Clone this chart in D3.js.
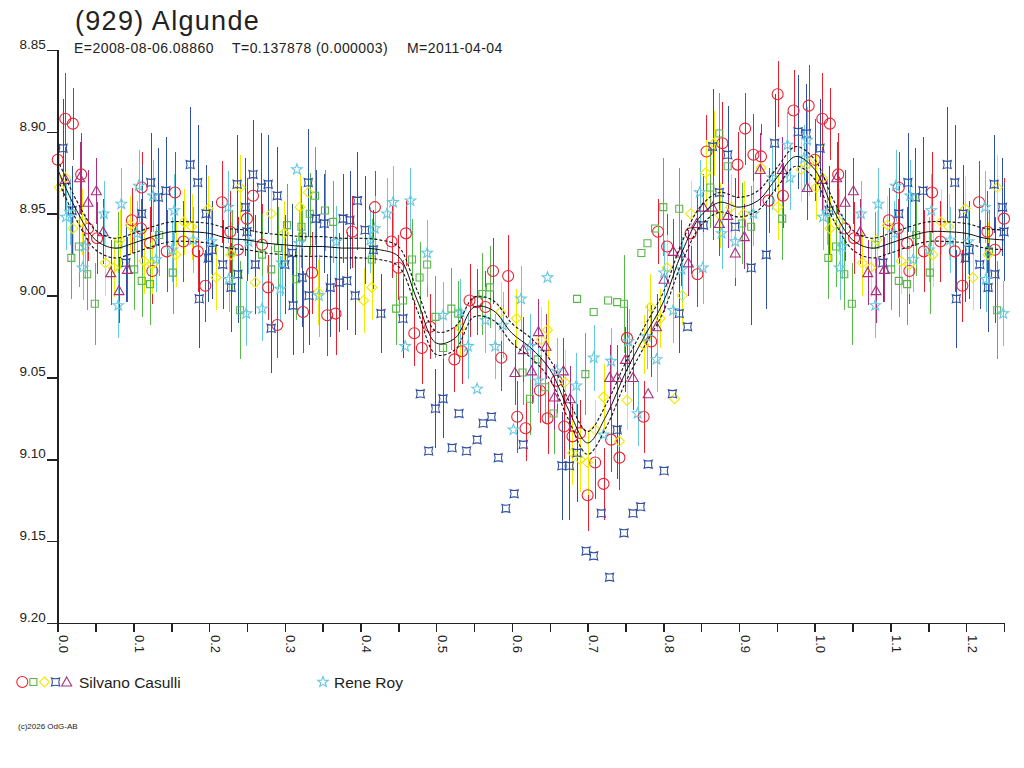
<!DOCTYPE html>
<html>
<head>
<meta charset="utf-8">
<script src="https://cdn.jsdelivr.net/npm/d3@7"></script>
<style>
  body { margin: 0; background: #fff; }
  svg { display: block; font-family: "Liberation Sans", Arial, sans-serif; }
</style>
</head>
<body>
<script>
// tick labels
var xTickLabels = ['0.0', '0.1', '0.2', '0.3', '0.4', '0.5', '0.6', '0.7', '0.8', '0.9', '1.0', '1.1', '1.2'];
var yTickLabels = ['8.85', '8.90', '8.95', '9.00', '9.05', '9.10', '9.15', '9.20'];

// observers
var observers = ['Silvano Casulli', 'Rene Roy'];

// fitted lightcurve: phase, magnitude, envelope half width
var fitPhase = [0.000, 0.025, 0.050, 0.075, 0.100, 0.125, 0.150, 0.175, 0.200, 0.225,
  0.250, 0.275, 0.300, 0.325, 0.350, 0.375, 0.400, 0.425, 0.450, 0.475,
  0.500, 0.525, 0.550, 0.575, 0.600, 0.625, 0.650, 0.675, 0.700, 0.725,
  0.750, 0.775, 0.800, 0.825, 0.850, 0.875, 0.900, 0.925, 0.950, 0.975, 1.000];
var fitMag = [8.923, 8.948, 8.966, 8.971, 8.968, 8.964, 8.961, 8.961, 8.962, 8.965,
  8.966, 8.968, 8.969, 8.970, 8.970, 8.971, 8.971, 8.972, 8.976, 9.003,
  9.029, 9.026, 9.007, 9.009, 9.023, 9.032, 9.045, 9.070, 9.090, 9.073,
  9.047, 9.025, 9.004, 8.973, 8.951, 8.943, 8.946, 8.942, 8.928, 8.915, 8.923];
var fitErr = [0.006, 0.006, 0.006, 0.006, 0.006, 0.006, 0.006, 0.006, 0.006, 0.006,
  0.006, 0.006, 0.006, 0.006, 0.006, 0.006, 0.006, 0.006, 0.006, 0.006,
  0.007, 0.007, 0.006, 0.006, 0.006, 0.006, 0.006, 0.006, 0.007, 0.007,
  0.006, 0.006, 0.006, 0.006, 0.006, 0.006, 0.006, 0.006, 0.006, 0.006, 0.006];

// measurements [phase, mag, error]  (Silvano Casulli, five sessions)
var casulliCircle = [[0.000,8.917,.025],[0.010,8.892,.028],[0.020,8.895,.022],[0.031,8.926,.025],[0.040,8.959,.020],
  [0.052,8.965,.022],[0.098,8.954,.020],[0.110,8.959,.018],[0.111,8.934,.022],[0.122,8.968,.022],[0.125,8.985,.020],
  [0.144,8.973,.025],[0.155,8.937,.025],[0.166,8.967,.025],[0.185,8.973,.025],[0.195,8.994,.022],[0.217,8.943,.025],
  [0.228,8.961,.025],[0.238,8.972,.020],[0.250,8.953,.025],[0.258,8.939,.022],[0.270,8.969,.025],[0.278,8.995,.020],
  [0.290,9.018,.020],[0.324,9.010,.025],[0.336,8.986,.025],[0.356,9.012,.025],[0.367,9.011,.025],[0.389,8.961,.022],
  [0.419,8.946,.022],[0.441,8.967,.022],[0.450,8.983,.020],[0.460,8.962,.020],[0.471,9.023,.020],[0.481,9.032,.022],
  [0.492,9.019,.020],[0.524,9.039,.020],[0.534,9.034,.020],[0.544,9.003,.022],[0.554,9.004,.020],[0.565,9.007,.022],
  [0.575,8.985,.020],[0.586,9.038,.020],[0.595,8.988,.025],[0.607,9.074,.022],[0.618,9.081,.020],[0.637,9.058,.020],
  [0.647,9.075,.022],[0.659,9.052,.020],[0.669,9.080,.020],[0.680,9.086,.020],[0.690,9.084,.020],[0.700,9.122,.022],
  [0.710,9.102,.022],[0.721,9.115,.022],[0.731,9.088,.020],[0.742,9.099,.020],[0.752,9.026,.022],[0.774,9.074,.022],
  [0.784,9.028,.022],[0.793,8.961,.020],[0.805,8.970,.020],[0.836,8.962,.025],[0.845,8.987,.020],[0.857,8.912,.022],
  [0.878,8.907,.025],[0.898,8.920,.020],[0.908,8.898,.022],[0.919,8.914,.025],[0.929,8.915,.020],[0.939,8.942,.020],
  [0.951,8.877,.020],[0.958,8.939,.020],[0.972,8.887,.025],[0.992,8.884,.025]];

var casulliSquare = [[0.018,8.977,.025],[0.028,8.970,.025],[0.039,8.987,.022],[0.049,9.005,.025],[0.080,8.969,.020],
  [0.101,8.984,.025],[0.111,8.991,.022],[0.122,8.993,.025],[0.134,8.963,.025],[0.152,8.986,.025],[0.230,8.973,.025],
  [0.241,9.009,.030],[0.270,8.975,.025],[0.282,8.984,.022],[0.291,8.971,.025],[0.303,8.957,.025],[0.315,8.990,.025],
  [0.322,8.958,.025],[0.323,8.964,.020],[0.333,8.950,.025],[0.340,8.939,.030],[0.353,8.948,.025],[0.364,8.955,.025],
  [0.415,8.978,.025],[0.447,9.008,.022],[0.456,9.003,.025],[0.468,8.978,.025],[0.478,8.989,.022],[0.488,8.981,.020],
  [0.499,9.013,.025],[0.509,9.032,.022],[0.520,9.008,.025],[0.529,9.011,.020],[0.561,8.999,.025],[0.571,8.995,.025],
  [0.614,9.047,.020],[0.624,9.063,.022],[0.634,9.039,.025],[0.644,9.056,.022],[0.655,9.072,.025],[0.686,9.002,0],
  [0.697,9.048,.025],[0.708,9.010,0],[0.727,9.003,0],[0.739,9.004,0],[0.748,9.005,.030],[0.771,8.974,0],
  [0.779,8.968,0],[0.789,8.959,0],[0.800,8.946,.030],[0.821,8.947,.025],[0.862,8.934,.025],[0.874,8.901,.025],
  [0.885,8.921,.025],[0.904,8.956,.025],[0.916,8.958,.025],[0.957,8.953,.025]];

var casulliDiamond = [[0.002,8.934,.020],[0.010,8.928,.020],[0.020,8.959,.020],[0.032,8.955,.020],[0.063,8.980,.020],
  [0.074,8.983,.018],[0.082,8.966,.018],[0.096,8.957,.018],[0.114,8.979,.020],[0.125,8.981,.018],[0.156,8.975,.020],
  [0.167,8.955,.020],[0.177,8.958,.020],[0.199,8.947,.020],[0.209,8.989,.020],[0.229,8.975,.020],[0.241,8.934,.020],
  [0.261,8.992,.020],[0.282,8.950,.020],[0.299,8.962,.020],[0.320,8.946,.020],[0.331,8.937,.020],[0.344,8.998,.020],
  [0.404,9.003,.020],[0.415,8.995,.020],[0.532,9.020,.018],[0.585,9.010,.018],[0.606,9.014,.018],[0.639,9.027,.020],
  [0.647,9.021,.018],[0.670,9.053,.020],[0.680,9.096,.020],[0.690,9.100,.020],[0.700,9.102,.020],[0.710,9.082,.018],
  [0.721,9.062,.020],[0.742,9.089,0],[0.752,9.064,.018],[0.774,9.030,.018],[0.783,9.007,.020],[0.796,9.014,.018],
  [0.805,8.983,.020],[0.815,9.063,0],[0.825,9.000,.018],[0.836,8.950,.020],[0.856,8.925,.020],[0.867,8.907,.020],
  [0.875,8.951,.020],[0.889,8.946,.020],[0.906,8.950,.020],[0.929,8.922,.020],[0.951,8.946,.020],[0.982,8.923,.020],
  [0.992,8.919,.020]];

var casulliCross = [[0.007,8.910,.030],[0.019,8.948,.027],[0.090,8.980,.024],[0.111,8.950,.030],[0.123,8.931,.030],
  [0.133,8.940,.030],[0.143,8.936,.033],[0.175,8.920,.035],[0.185,8.931,.035],[0.187,9.002,.030],[0.196,8.950,.030],
  [0.199,8.977,.027],[0.204,8.972,.030],[0.218,8.981,.027],[0.229,8.995,.027],[0.237,8.932,.030],[0.238,8.987,.030],
  [0.248,8.946,.030],[0.250,8.961,.030],[0.258,8.926,.033],[0.261,8.981,.030],[0.269,8.934,.033],[0.278,8.932,.030],
  [0.282,9.020,.027],[0.290,8.939,.030],[0.300,8.981,.030],[0.310,8.974,.030],[0.311,9.006,.030],[0.323,8.989,.030],
  [0.331,8.931,.033],[0.332,9.000,.030],[0.341,8.953,.030],[0.352,8.956,.030],[0.360,8.995,.030],[0.372,8.992,.030],
  [0.377,8.953,.027],[0.382,8.991,.030],[0.386,8.954,.030],[0.393,9.000,.024],[0.396,8.942,.030],[0.406,8.960,.033],
  [0.417,8.972,.024],[0.427,9.011,.024],[0.456,9.014,.024],[0.479,9.060,0],[0.490,9.095,0],[0.499,9.069,.024],
  [0.509,9.063,.024],[0.521,9.093,0],[0.530,9.072,0],[0.540,9.095,0],[0.554,9.088,0],[0.562,9.078,0],
  [0.573,9.074,0],[0.582,9.099,0],[0.592,9.130,0],[0.603,9.121,0],[0.615,9.091,0],[0.666,9.104,.033],
  [0.676,9.104,.033],[0.686,9.096,.030],[0.698,9.156,0],[0.708,9.159,0],[0.718,9.133,0],[0.729,9.172,0],
  [0.739,9.082,.030],[0.748,9.145,0],[0.760,9.133,0],[0.770,9.129,0],[0.780,9.103,0],[0.801,9.107,0],
  [0.812,9.060,0],[0.821,9.011,.024],[0.832,9.019,0],[0.853,8.957,.030],[0.865,8.909,.035],[0.874,8.937,.035],
  [0.885,8.914,.030],[0.895,8.958,.030],[0.916,8.983,.035],[0.936,8.975,.033],[0.947,8.907,.030],[0.978,8.900,.035],
  [0.989,8.901,.030]];

var casulliTriangle = [[0.010,8.929,.020],[0.029,8.928,.022],[0.040,8.943,.020],[0.051,8.936,.020],[0.060,8.961,.020],
  [0.070,8.986,.020],[0.081,8.997,.020],[0.092,8.984,.020],[0.604,9.047,.020],[0.615,9.033,.020],[0.626,9.046,.020],
  [0.635,9.022,.020],[0.645,9.031,.020],[0.656,9.062,.020],[0.668,9.046,.020],[0.677,9.063,.020],[0.729,9.050,.020],
  [0.739,9.050,.020],[0.750,9.039,.020],[0.760,9.050,.020],[0.780,9.060,0],[0.791,9.019,.020],[0.801,8.990,.020],
  [0.813,8.973,.020],[0.823,8.974,.020],[0.833,8.980,.020],[0.844,8.956,.020],[0.853,8.946,.020],[0.865,8.946,.020],
  [0.874,8.956,.020],[0.885,8.951,.020],[0.895,8.974,.020],[0.907,8.964,.020],[0.928,8.923,.022],[0.957,8.923,.020],
  [0.990,8.934,.020]];

// measurements [phase, mag, error]  (Rene Roy)
var royStar = [[0.011,8.952,.020],[0.016,8.949,.020],[0.033,8.983,.020],[0.036,8.970,.020],[0.061,8.950,.020],
  [0.080,9.006,.020],[0.084,8.944,.022],[0.105,8.962,.020],[0.107,8.933,.022],[0.126,8.939,.022],[0.130,8.978,.020],
  [0.151,8.972,.020],[0.154,8.948,.022],[0.179,8.966,.020],[0.203,8.967,.020],[0.225,8.946,.022],[0.226,8.990,.020],
  [0.249,9.011,.020],[0.252,8.967,.020],[0.270,9.008,.020],[0.294,8.996,.020],[0.296,8.980,.020],[0.316,8.923,0],
  [0.319,8.968,.020],[0.345,9.000,.025],[0.368,8.967,.022],[0.413,8.966,.020],[0.419,8.959,.020],[0.435,8.950,.022],
  [0.443,8.943,.022],[0.459,9.031,0],[0.466,8.942,.020],[0.488,8.974,.020],[0.509,9.012,.020],[0.532,9.010,.020],
  [0.542,9.031,.020],[0.554,9.057,0],[0.565,9.015,.020],[0.578,9.031,.020],[0.588,9.018,.020],[0.602,9.082,0],
  [0.612,9.002,.020],[0.624,9.031,.020],[0.635,9.052,.020],[0.647,8.989,0],[0.659,9.046,.020],[0.685,9.055,.020],
  [0.708,9.038,.020],[0.721,9.085,0],[0.731,9.040,.020],[0.754,9.028,.020],[0.766,9.072,.020],[0.778,9.025,.020],
  [0.791,9.039,.020],[0.801,8.986,.020],[0.813,9.009,.020],[0.824,8.984,.020],[0.848,8.937,.020],[0.852,8.983,.022],
  [0.877,8.962,.022],[0.895,8.967,.022],[0.919,8.950,.020],[0.944,8.928,.020],[0.964,8.908,.020],[0.967,8.928,.020],
  [0.986,8.916,.020],[0.990,8.905,.020]];

(function init() {

  draw();
})();

// the plot repeats phases 0..0.25 after phase 1.0
function wrap(points) {

  return points.concat(points.filter(function (p) {
    return p[0] <= 0.25;
  }).map(function (p) {
    return [p[0] + 1, p[1], p[2]];
  }));
}

function shapePath(kind) {

  if (kind === 'circle') return 'M5.5,0A5.5,5.5 0 1,1 -5.5,0A5.5,5.5 0 1,1 5.5,0Z';
  if (kind === 'square') return 'M-3.5,-3.5H3.5V3.5H-3.5Z';
  if (kind === 'diamond') return 'M0,-5L5,0L0,5L-5,0Z';
  if (kind === 'cross') return 'M-4,-4Q0,-2.4 4,-4Q2.4,0 4,4Q0,2.4 -4,4Q-2.4,0 -4,-4Z';
  if (kind === 'triangle') return 'M0,-5L5,4L-5,4Z';
  // five point star
  var pts = d3.range(10).map(function (i) {
    var r = i % 2 ? 2.3 : 5.6;
    var a = -Math.PI / 2 + i * Math.PI / 5;
    return [r * Math.cos(a), r * Math.sin(a)];
  });
  return 'M' + pts.join('L') + 'Z';
}

function draw() {

  var series = [
    { name: observers[0], kind: 'circle', color: '#ea2030', data: casulliCircle },
    { name: observers[0], kind: 'square', color: '#58b848', data: casulliSquare },
    { name: observers[0], kind: 'diamond', color: '#f2ea00', data: casulliDiamond },
    { name: observers[0], kind: 'cross', color: '#3050a4', data: casulliCross },
    { name: observers[0], kind: 'triangle', color: '#aa2e80', data: casulliTriangle },
    { name: observers[1], kind: 'star', color: '#66c8e0', data: royStar }
  ];

  var x = d3.scaleLinear()
      .domain([0, 1.25])
      .range([57.7, 1004]);

  var y = d3.scaleLinear()
      .domain([+yTickLabels[0], +yTickLabels[yTickLabels.length - 1]])
      .range([50, 623]);

  var svg = d3.select('body')
    .append('svg')
      .attr('width', 1024)
      .attr('height', 768);

  svg.append('text')
      .attr('x', 75)
      .attr('y', 30)
      .attr('font-size', 27)
      .attr('letter-spacing', 1.3)
      .attr('fill', '#222')
      .text('(929) Algunde');

  var sub = [['E=2008-08-06.08860', 74], ['T=0.137878 (0.000003)', 232], ['M=2011-04-04', 407]];
  svg.selectAll('.sub')
      .data(sub)
      .enter()
    .append('text')
      .attr('class', 'sub')
      .attr('x', function (d) { return d[1]; })
      .attr('y', 53)
      .attr('font-size', 14)
      .attr('letter-spacing', 0.45)
      .attr('fill', '#222')
      .text(function (d) { return d[0]; });

  // error bars
  var bars = svg.append('g').attr('shape-rendering', 'crispEdges');
  series.forEach(function (s) {
    bars.selectAll(null)
        .data(wrap(s.data).filter(function (p) { return p[2] > 0; }))
        .enter()
      .append('line')
        .attr('x1', function (d) { return Math.round(x(d[0])) + 0.5; })
        .attr('x2', function (d) { return Math.round(x(d[0])) + 0.5; })
        .attr('y1', function (d) { return y(d[1] - d[2]); })
        .attr('y2', function (d) { return y(d[1] + d[2]); })
        .attr('stroke', s.color)
        .attr('stroke-width', 1.2);
  });

  // markers
  series.forEach(function (s) {
    svg.append('g').selectAll('path')
        .data(wrap(s.data))
        .enter()
      .append('path')
        .attr('d', shapePath(s.kind))
        .attr('transform', function (d) {
          return 'translate(' + x(d[0]) + ',' + y(d[1]) + ')';
        })
        .attr('fill', 'none')
        .attr('stroke', s.color)
        .attr('stroke-width', 1.1);
  });

  // fit and envelope
  var fit = wrap(fitPhase.map(function (p, i) {
    return [p, fitMag[i], fitErr[i]];
  }).filter(function (d) { return d[0] < 1; }));
  fit.sort(function (a, b) { return a[0] - b[0]; });

  var line = function (offset) {
    return d3.line()
        .x(function (d) { return x(d[0]); })
        .y(function (d) { return y(d[1] + offset * d[2]); })
        .curve(d3.curveCatmullRom);
  };

  svg.append('path')
      .attr('d', line(0)(fit))
      .attr('fill', 'none')
      .attr('stroke', '#111')
      .attr('stroke-width', 1);

  [-1, 1].forEach(function (k) {
    svg.append('path')
        .attr('d', line(k)(fit))
        .attr('fill', 'none')
        .attr('stroke', '#111')
        .attr('stroke-width', 1.1)
        .attr('stroke-dasharray', '3,2');
  });

  // axes
  var xMajor = xTickLabels.map(Number);
  var xAll = d3.range(0, 26).map(function (i) { return i * 0.05; });

  var xAxis = d3.axisBottom(x)
      .tickValues(xAll)
      .tickSizeOuter(0)
      .tickSize(9)
      .tickFormat(function (d) {
        var i = xMajor.findIndex(function (m) { return Math.abs(m - d) < 1e-6; });
        return i < 0 ? '' : xTickLabels[i];
      });

  var gx = svg.append('g')
      .attr('transform', 'translate(0,623)')
      .attr('shape-rendering', 'crispEdges')
      .call(xAxis);

  gx.selectAll('path, line').attr('stroke', '#222').attr('stroke-width', 1.5);
  gx.selectAll('text')
      .attr('transform', 'rotate(90)')
      .attr('x', 12)
      .attr('y', -1)
      .attr('dy', null)
      .attr('text-anchor', 'start')
      .attr('font-size', 13)
      .attr('font-family', '"Liberation Sans", Arial, sans-serif')
      .attr('fill', '#222');

  var yAxis = d3.axisLeft(y)
      .tickValues(yTickLabels.map(Number))
      .tickSizeOuter(0)
      .tickSize(11)
      .tickFormat(function (d, i) { return yTickLabels[i]; });

  var gy = svg.append('g')
      .attr('transform', 'translate(57.7,0)')
      .attr('shape-rendering', 'crispEdges')
      .call(yAxis);

  gy.selectAll('path, line').attr('stroke', '#222').attr('stroke-width', 1.5);
  gy.selectAll('text')
      .attr('x', -12)
      .attr('y', -1.5)
      .attr('dy', null)
      .attr('font-size', 13.5)
      .attr('font-family', '"Liberation Sans", Arial, sans-serif')
      .attr('fill', '#222');

  // legend
  var legend = svg.append('g');
  var casulli = series.filter(function (s) { return s.name === observers[0]; });
  casulli.forEach(function (s, i) {
    legend.append('path')
        .attr('d', shapePath(s.kind))
        .attr('transform', 'translate(' + (22.3 + i * 11.1) + ',682)')
        .attr('fill', 'none')
        .attr('stroke', s.color)
        .attr('stroke-width', 1.1);
  });
  legend.append('text')
      .attr('x', 79)
      .attr('y', 688)
      .attr('font-size', 15.5)
      .attr('fill', '#222')
      .text(observers[0]);

  legend.append('path')
      .attr('d', shapePath('star'))
      .attr('transform', 'translate(323,682)')
      .attr('fill', 'none')
      .attr('stroke', series[5].color)
      .attr('stroke-width', 1.1);
  legend.append('text')
      .attr('x', 334)
      .attr('y', 688)
      .attr('font-size', 15.5)
      .attr('fill', '#222')
      .text(observers[1]);

  svg.append('text')
      .attr('x', 18)
      .attr('y', 729)
      .attr('font-size', 8)
      .attr('fill', '#222')
      .text('(c)2026 OdG-AB');
}
</script>
</body>
</html>
